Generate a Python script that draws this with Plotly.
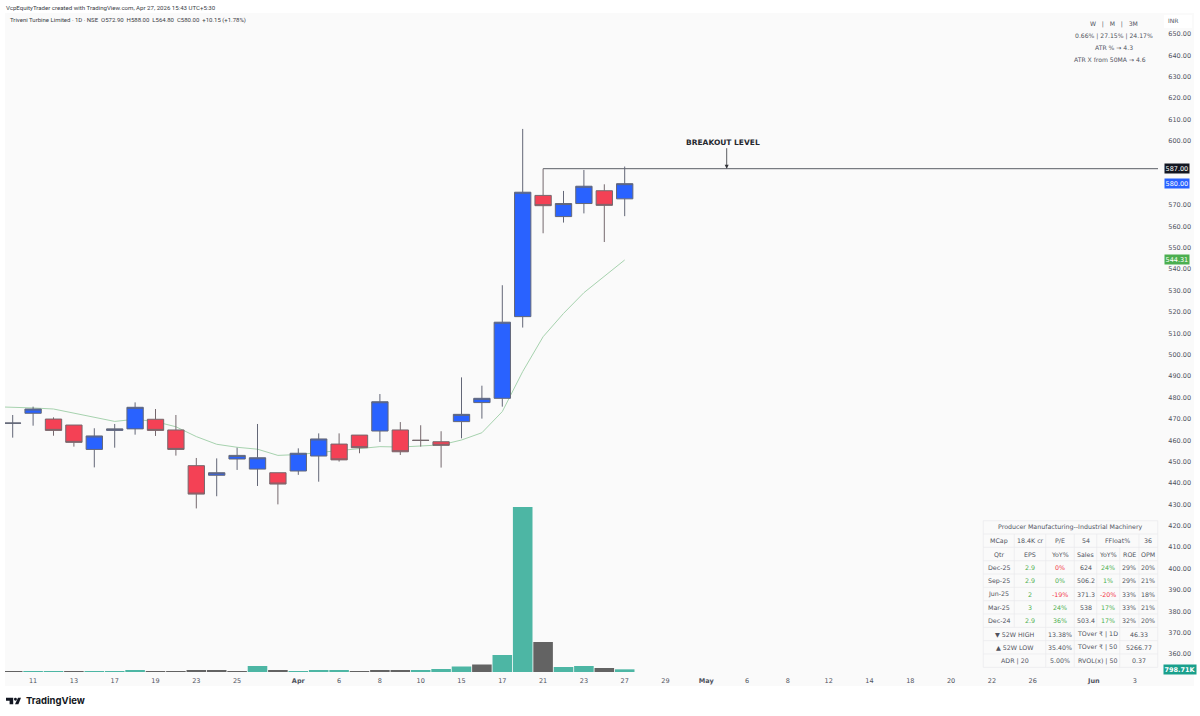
import plotly.graph_objects as go

W, H = 1200, 716
PL, PR, PT, PB = 5, 1158, 13, 672

idx = list(range(31))
opens = [467.95,472.6,469.9,467.1,455.7,464.6,465.3,469.8,464.8,448.1,443.6,451.2,446.5,444.8,445.6,452.6,
         458.2,462.4,464.3,464.8,460.0,459.3,468.7,477.6,479.6,517.8,574.5,564.6,570.7,576.7,572.9]
highs = [471.8,475.7,470.7,467.1,465.6,467.6,477.7,474.6,471.8,451.7,451.5,456.5,467.6,444.8,456.2,463.2,
         463.2,462.4,481.6,468.5,467.0,464.2,489.4,485.5,532.5,605.6,587.0,576.6,586.4,579.7,588.0]
lows = [461.2,466.8,462.1,457.0,447.3,456.5,462.6,462.0,452.8,428.1,433.8,446.1,438.6,430.0,443.8,440.6,
        450.0,453.9,459.2,453.1,457.0,447.2,460.9,470.1,475.7,512.7,556.8,561.8,566.1,552.7,564.8]
closes = [468.0,474.6,464.6,459.0,462.0,465.3,475.4,464.6,455.7,434.8,444.8,452.9,451.8,439.5,453.9,460.6,
          450.8,456.5,478.0,454.6,459.9,457.6,472.1,479.6,515.2,576.0,569.7,570.7,578.8,569.85,580.0]
ma_x = list(range(-1, 31))
ma = [475.7,475.5,475.1,474.6,472.6,470.5,468.8,469.8,468.7,466.3,461.7,458.1,456.7,455.8,452.9,453.3,454.2,
      455.4,456.2,457.0,456.8,457.3,457.8,460.1,463.5,473.4,492.1,508.4,519.3,529.0,536.5,544.31]
volume_k = [300,300,300,300,300,300,450,300,300,600,320,300,1800,600,300,360,
            360,300,600,600,450,900,1650,2250,5100,49500,9000,1500,1800,1200,798.71]
volume_dir = ["d","u","u","d","u","u","u","d","d","d","d","d","u","d","u","u",
              "u","d","d","d","u","u","u","d","u","u","d","u","u","d","u"]
breakout_level = 587.0
breakout_x = [26, 70]
price_ticks = [360,370,380,390,400,410,420,430,440,450,460,470,480,490,500,510,520,530,540,550,560,570,
               600,610,620,630,640,650]
date_pos = [1,3,5,7,9,11,14,16,18,20,22,24,26,28,30,32,34,36,38,40,42,44,46,48,50,53,55]
date_labels = ["11","13","17","19","23","25","<b>Apr</b>","6","8","10","15","17","21","23","27","29",
               "<b>May</b>","6","8","12","14","18","20","22","26","<b>Jun</b>","3"]
BLUE, RED, TEAL, GRAY = "#2962ff", "#f44155", "#4db6a4", "#636363"
TXT = "#50535e"
FONT = "DejaVu Sans"

def px(x): return (x - PL) / (PR - PL)
def py(y): return (PB - y) / (PB - PT)
xrange_ = [(PL - 12.7) / 20.4, (PR - 12.7) / 20.4]
yrange_ = [650 - (PB - 34) / 2.138, 650 + (34 - PT) / 2.138]

fig = go.Figure()
fig.add_trace(go.Scatter(x=ma_x, y=ma, mode="lines", line=dict(color="#a6d2ae", width=1), hoverinfo="skip"))
fig.add_trace(go.Scatter(x=breakout_x, y=[breakout_level, breakout_level], mode="lines",
                         line=dict(color="#5b5e66", width=1), hoverinfo="skip"))
fig.add_trace(go.Bar(x=idx, y=volume_k, yaxis="y2", width=0.96,
                     marker=dict(color=[TEAL if d == "u" else GRAY for d in volume_dir], line=dict(width=0)),
                     hoverinfo="skip"))
fig.add_trace(go.Candlestick(x=idx, open=opens, high=highs, low=lows, close=closes, whiskerwidth=0, yaxis="y3",
                             increasing=dict(fillcolor=BLUE, line=dict(color="#636777", width=1)),
                             decreasing=dict(fillcolor=RED, line=dict(color="#75686d", width=1))))

ann, shp = [], []
def text(x, y, s, size=7, color=TXT, anchor="center", family=FONT):
    ann.append(dict(xref="paper", yref="paper", x=px(x), y=py(y), text=s, showarrow=False, xanchor=anchor,
                    yanchor="middle", font=dict(family=family, size=size, color=color), borderpad=0))

shp.append(dict(type="rect", xref="paper", yref="paper", x0=px(5), x1=px(1194), y0=py(13), y1=py(686),
                fillcolor="#fafafa", line=dict(width=0), layer="below"))
shp.append(dict(type="rect", xref="paper", yref="paper", x0=px(1164), x1=px(1192), y0=py(15), y1=py(28),
                fillcolor="#ffffff", line=dict(width=0), layer="below"))

text(5, 7, "VcpEquityTrader created with TradingView.com, Apr 27, 2026 15:43 UTC+5:30", 6.1, "#3a3d46", "left", "Roboto")
text(9, 20.5, "Triveni Turbine Limited · 1D · NSE &nbsp;O572.90 &nbsp;H588.00 &nbsp;L564.80 &nbsp;C580.00 &nbsp;+10.15 (+1.78%)", 6, "#3a3d46", "left", "Roboto")
text(1114, 24, "W &nbsp;&nbsp;|&nbsp;&nbsp; M &nbsp;&nbsp;|&nbsp;&nbsp; 3M", 6.1)
text(1114, 36, "0.66% | 27.15% | 24.17%", 6.1)
text(1114, 47.5, "ATR % → 4.3", 6.1)
text(1110, 59.5, "ATR X from 50MA → 4.6", 6.1)
text(1173, 21, "INR", 6)
text(723, 142, "<b>BREAKOUT LEVEL</b>", 7.5, "#26282e")

ann.append(dict(x=35, y=breakout_level, xref="x", yref="y", ax=0, ay=-22, axref="pixel", ayref="pixel",
                text="", showarrow=True, arrowhead=2, arrowsize=1, arrowwidth=0.8, arrowcolor="#33353b"))

def tag(y, yref, s, bg, x=1163.5):
    ann.append(dict(xref="paper", yref=yref, x=px(x), y=y, text=s, showarrow=False, xanchor="left", yanchor="middle",
                    bgcolor=bg, font=dict(family=FONT, size=6.5, color="#ffffff"), borderpad=0.5))
tag(587, "y", "587.00", "#131722")
tag(580, "y", "580.00", BLUE)
tag(544.31, "y", "544.31", "#4caf50")
tag(volume_k[-1], "y2", "<b>798.71K</b>", "#1aa08c", 1163)

edges = [983.3, 1014.3, 1045.7, 1074.3, 1096.7, 1119.7, 1139, 1157.7]
table_top, row_h = 520.7, 13.33
G, R = "#4caf50", "#f23645"
table_rows = [
    [("Producer Manufacturing--Industrial Machinery", 0, 7, TXT)],
    [("MCap", 0, 1, TXT), ("18.4K cr", 1, 2, TXT), ("P/E", 2, 3, TXT), ("54", 3, 4, TXT), ("FFloat%", 4, 6, TXT), ("36", 6, 7, TXT)],
    [("Qtr", 0, 1, TXT), ("EPS", 1, 2, TXT), ("YoY%", 2, 3, TXT), ("Sales", 3, 4, TXT), ("YoY%", 4, 5, TXT), ("ROE", 5, 6, TXT), ("OPM", 6, 7, TXT)],
    [("Dec-25", 0, 1, TXT), ("2.9", 1, 2, G), ("0%", 2, 3, R), ("624", 3, 4, TXT), ("24%", 4, 5, G), ("29%", 5, 6, TXT), ("20%", 6, 7, TXT)],
    [("Sep-25", 0, 1, TXT), ("2.9", 1, 2, G), ("0%", 2, 3, G), ("506.2", 3, 4, TXT), ("1%", 4, 5, G), ("29%", 5, 6, TXT), ("21%", 6, 7, TXT)],
    [("Jun-25", 0, 1, TXT), ("2", 1, 2, G), ("-19%", 2, 3, R), ("371.3", 3, 4, TXT), ("-20%", 4, 5, R), ("33%", 5, 6, TXT), ("18%", 6, 7, TXT)],
    [("Mar-25", 0, 1, TXT), ("3", 1, 2, G), ("24%", 2, 3, G), ("538", 3, 4, TXT), ("17%", 4, 5, G), ("33%", 5, 6, TXT), ("21%", 6, 7, TXT)],
    [("Dec-24", 0, 1, TXT), ("2.9", 1, 2, G), ("36%", 2, 3, G), ("503.4", 3, 4, TXT), ("17%", 4, 5, G), ("32%", 5, 6, TXT), ("20%", 6, 7, TXT)],
    [("▼ 52W HIGH", 0, 2, TXT), ("13.38%", 2, 3, TXT), ("TOver ₹ | 1D", 3, 5, TXT), ("46.33", 5, 7, TXT)],
    [("▲ 52W LOW", 0, 2, TXT), ("35.40%", 2, 3, TXT), ("TOver ₹ | 50", 3, 5, TXT), ("5266.77", 5, 7, TXT)],
    [("ADR | 20", 0, 2, TXT), ("5.00%", 2, 3, TXT), ("RVOL(x) | 50", 3, 5, TXT), ("0.37", 5, 7, TXT)],
]
GRID = dict(color="#e9e9ec", width=0.7)
def seg(x0, y0, x1, y1):
    shp.append(dict(type="line", xref="paper", yref="paper", x0=px(x0), x1=px(x1), y0=py(y0), y1=py(y1), line=GRID))
for r, row in enumerate(table_rows):
    yt = table_top + r * row_h
    seg(edges[0], yt, edges[-1], yt)
    for (s, a, b, c) in row:
        text((edges[a] + edges[b]) / 2, yt + row_h / 2, s, 6.3, c)
        seg(edges[a], yt, edges[a], yt + row_h)
    seg(edges[-1], yt, edges[-1], yt + row_h)
seg(edges[0], table_top + 11 * row_h, edges[-1], table_top + 11 * row_h)

INK = "#131722"
def poly(pts, fill=INK):
    d = "M" + " L".join(f"{px(a)},{py(b)}" for a, b in pts) + " Z"
    shp.append(dict(type="path", xref="paper", yref="paper", path=d, fillcolor=fill, line=dict(width=0)))
poly([(6, 697.8), (13.2, 697.8), (13.2, 704.3), (9.6, 704.3), (9.6, 700.8), (6, 700.8)])
poly([(18, 697.8), (21, 697.8), (18.4, 704.3), (15, 704.3)])
shp.append(dict(type="circle", xref="paper", yref="paper", x0=px(14), x1=px(16.9), y0=py(697.8), y1=py(700.7),
                fillcolor=INK, line=dict(width=0)))
text(24.5, 701, "<b>TradingView</b>", 9.5, INK, "left", "Inter")

fig.update_layout(
    width=W, height=H, autosize=False, margin=dict(l=PL, r=W - PR, t=PT, b=H - PB),
    paper_bgcolor="#ffffff", plot_bgcolor="rgba(0,0,0,0)", showlegend=False, boxgap=0.2, boxgroupgap=0, bargap=0.04,
    shapes=shp, annotations=ann,
    xaxis=dict(range=xrange_, tickmode="array", tickvals=date_pos, ticktext=date_labels, showgrid=False, zeroline=False,
               rangeslider=dict(visible=False), ticks="outside", ticklen=2, tickcolor="rgba(0,0,0,0)",
               tickfont=dict(family=FONT, size=6.5, color=TXT), showline=False, tickangle=0),
    yaxis=dict(range=yrange_, side="right", tickmode="array", tickvals=price_ticks,
               ticktext=[f"{v:.2f}" for v in price_ticks], showgrid=False, zeroline=False, showline=False,
               ticks="outside", ticklen=8, tickcolor="rgba(0,0,0,0)", tickfont=dict(family=FONT, size=6.5, color=TXT)),
    yaxis2=dict(range=[0, 197700], overlaying="y", side="right", visible=False, showgrid=False),
    yaxis3=dict(range=yrange_, overlaying="y", side="right", visible=False, showgrid=False),
)
fig.write_html("out.html", config=dict(displayModeBar=False), post_script="document.body.style.margin='0';")
